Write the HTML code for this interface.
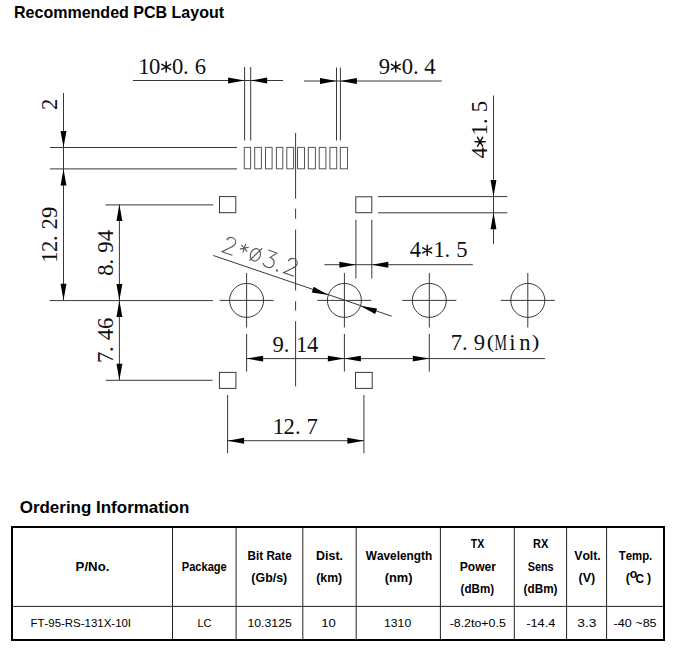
<!DOCTYPE html>
<html><head><meta charset="utf-8"><style>
html,body{margin:0;padding:0;background:#fff;}
body{width:676px;height:649px;overflow:hidden;}
svg{display:block;font-kerning:none;}
text{font-kerning:none;}
</style></head><body>
<svg width="676" height="649" viewBox="0 0 676 649">
<text x="13.99" y="18.00" font-family="Liberation Sans" font-size="17.22" font-weight="bold" fill="#000" textLength="210.11" lengthAdjust="spacingAndGlyphs">Recommended PCB Layout</text>
<text x="19.70" y="512.60" font-family="Liberation Sans" font-size="17.30" font-weight="bold" fill="#000" textLength="169.65" lengthAdjust="spacingAndGlyphs">Ordering Information</text>
<rect x="244.30" y="147.40" width="6.30" height="21.40" fill="none" stroke="#555" stroke-width="1.0"/>
<rect x="254.70" y="147.40" width="6.70" height="21.40" fill="none" stroke="#555" stroke-width="1.0"/>
<rect x="265.50" y="147.40" width="6.60" height="21.40" fill="none" stroke="#555" stroke-width="1.0"/>
<rect x="276.40" y="147.40" width="6.40" height="21.40" fill="none" stroke="#555" stroke-width="1.0"/>
<rect x="286.80" y="147.40" width="6.80" height="21.40" fill="none" stroke="#555" stroke-width="1.0"/>
<rect x="297.50" y="147.40" width="7.00" height="21.40" fill="none" stroke="#555" stroke-width="1.0"/>
<rect x="308.30" y="147.40" width="7.10" height="21.40" fill="none" stroke="#555" stroke-width="1.0"/>
<rect x="319.20" y="147.40" width="6.70" height="21.40" fill="none" stroke="#555" stroke-width="1.0"/>
<rect x="329.90" y="147.40" width="6.80" height="21.40" fill="none" stroke="#555" stroke-width="1.0"/>
<rect x="340.30" y="147.40" width="7.20" height="21.40" fill="none" stroke="#555" stroke-width="1.0"/>
<line x1="133.00" y1="80.50" x2="283.00" y2="80.50" stroke="#383838" stroke-width="1.0"/>
<polygon points="244.60,80.50 228.10,83.45 228.10,77.55" fill="#000"/>
<polygon points="250.70,80.50 267.20,77.55 267.20,83.45" fill="#000"/>
<line x1="244.60" y1="67.00" x2="244.60" y2="140.50" stroke="#383838" stroke-width="1.0"/>
<line x1="250.70" y1="67.00" x2="250.70" y2="140.50" stroke="#383838" stroke-width="1.0"/>
<line x1="304.00" y1="81.00" x2="441.80" y2="81.00" stroke="#383838" stroke-width="1.0"/>
<polygon points="336.50,81.00 320.00,83.95 320.00,78.05" fill="#000"/>
<polygon points="340.40,81.00 356.90,78.05 356.90,83.95" fill="#000"/>
<line x1="336.50" y1="67.50" x2="336.50" y2="140.50" stroke="#383838" stroke-width="1.0"/>
<line x1="340.40" y1="67.50" x2="340.40" y2="140.50" stroke="#383838" stroke-width="1.0"/>
<line x1="50.00" y1="147.50" x2="237.00" y2="147.50" stroke="#383838" stroke-width="1.0"/>
<line x1="50.00" y1="168.90" x2="237.00" y2="168.90" stroke="#383838" stroke-width="1.0"/>
<line x1="63.50" y1="93.00" x2="63.50" y2="300.30" stroke="#383838" stroke-width="1.0"/>
<polygon points="63.50,147.50 60.55,131.00 66.45,131.00" fill="#000"/>
<polygon points="63.50,168.90 66.45,185.40 60.55,185.40" fill="#000"/>
<polygon points="63.50,300.30 60.55,283.80 66.45,283.80" fill="#000"/>
<line x1="49.60" y1="300.60" x2="212.80" y2="300.60" stroke="#383838" stroke-width="1.0"/>
<line x1="119.40" y1="204.40" x2="119.40" y2="380.20" stroke="#383838" stroke-width="1.0"/>
<polygon points="119.40,204.40 122.35,220.90 116.45,220.90" fill="#000"/>
<polygon points="119.40,300.50 116.45,284.00 122.35,284.00" fill="#000"/>
<polygon points="119.40,300.50 122.35,317.00 116.45,317.00" fill="#000"/>
<polygon points="119.40,380.20 116.45,363.70 122.35,363.70" fill="#000"/>
<line x1="105.50" y1="204.90" x2="213.20" y2="204.90" stroke="#383838" stroke-width="1.0"/>
<line x1="105.80" y1="380.30" x2="212.50" y2="380.30" stroke="#383838" stroke-width="1.0"/>
<rect x="219.50" y="196.60" width="16.30" height="16.10" fill="none" stroke="#383838" stroke-width="1.0"/>
<rect x="355.80" y="196.80" width="16.00" height="15.90" fill="none" stroke="#383838" stroke-width="1.0"/>
<rect x="219.40" y="372.40" width="16.50" height="16.00" fill="none" stroke="#383838" stroke-width="1.0"/>
<rect x="355.50" y="372.40" width="16.70" height="16.00" fill="none" stroke="#383838" stroke-width="1.0"/>
<line x1="378.00" y1="196.60" x2="507.30" y2="196.60" stroke="#383838" stroke-width="1.0"/>
<line x1="378.00" y1="212.80" x2="507.30" y2="212.80" stroke="#383838" stroke-width="1.0"/>
<line x1="493.50" y1="95.50" x2="493.50" y2="244.20" stroke="#383838" stroke-width="1.0"/>
<polygon points="493.50,196.60 490.55,180.10 496.45,180.10" fill="#000"/>
<polygon points="493.50,212.80 496.45,229.30 490.55,229.30" fill="#000"/>
<line x1="355.90" y1="219.70" x2="355.90" y2="278.50" stroke="#383838" stroke-width="1.0"/>
<line x1="371.80" y1="219.70" x2="371.80" y2="278.50" stroke="#383838" stroke-width="1.0"/>
<line x1="324.40" y1="264.70" x2="472.80" y2="264.70" stroke="#383838" stroke-width="1.0"/>
<polygon points="355.90,264.70 339.40,267.65 339.40,261.75" fill="#000"/>
<polygon points="371.80,264.70 388.30,261.75 388.30,267.65" fill="#000"/>
<circle cx="246.60" cy="300.40" r="17.00" fill="none" stroke="#383838" stroke-width="1.0"/>
<line x1="219.60" y1="300.40" x2="273.60" y2="300.40" stroke="#383838" stroke-width="1.0"/>
<line x1="246.60" y1="273.00" x2="246.60" y2="327.50" stroke="#383838" stroke-width="1.0"/>
<circle cx="344.40" cy="300.40" r="17.00" fill="none" stroke="#383838" stroke-width="1.0"/>
<line x1="317.40" y1="300.40" x2="371.40" y2="300.40" stroke="#383838" stroke-width="1.0"/>
<line x1="344.40" y1="273.00" x2="344.40" y2="327.50" stroke="#383838" stroke-width="1.0"/>
<circle cx="429.30" cy="300.40" r="17.00" fill="none" stroke="#383838" stroke-width="1.0"/>
<line x1="402.30" y1="300.40" x2="456.30" y2="300.40" stroke="#383838" stroke-width="1.0"/>
<line x1="429.30" y1="273.00" x2="429.30" y2="327.50" stroke="#383838" stroke-width="1.0"/>
<circle cx="527.80" cy="300.40" r="17.00" fill="none" stroke="#383838" stroke-width="1.0"/>
<line x1="500.80" y1="300.40" x2="554.80" y2="300.40" stroke="#383838" stroke-width="1.0"/>
<line x1="527.80" y1="273.00" x2="527.80" y2="327.50" stroke="#383838" stroke-width="1.0"/>
<line x1="295.60" y1="133.00" x2="295.60" y2="198.70" stroke="#383838" stroke-width="1.0"/>
<line x1="295.60" y1="208.70" x2="295.60" y2="218.80" stroke="#383838" stroke-width="1.0"/>
<line x1="295.60" y1="229.60" x2="295.60" y2="290.50" stroke="#383838" stroke-width="1.0"/>
<line x1="295.60" y1="301.30" x2="295.60" y2="310.60" stroke="#383838" stroke-width="1.0"/>
<line x1="295.60" y1="321.20" x2="295.60" y2="386.40" stroke="#383838" stroke-width="1.0"/>
<line x1="213.30" y1="255.50" x2="391.70" y2="316.20" stroke="#383838" stroke-width="1.0"/>
<polygon points="328.31,294.92 311.74,292.40 313.64,286.82" fill="#000"/>
<polygon points="360.49,305.88 377.06,308.40 375.16,313.98" fill="#000"/>
<line x1="246.60" y1="334.00" x2="246.60" y2="371.60" stroke="#383838" stroke-width="1.0"/>
<line x1="344.40" y1="334.00" x2="344.40" y2="371.60" stroke="#383838" stroke-width="1.0"/>
<line x1="246.60" y1="358.60" x2="545.10" y2="358.60" stroke="#383838" stroke-width="1.0"/>
<polygon points="246.60,358.60 263.10,355.65 263.10,361.55" fill="#000"/>
<polygon points="344.40,358.60 327.90,361.55 327.90,355.65" fill="#000"/>
<polygon points="344.40,358.60 360.90,355.65 360.90,361.55" fill="#000"/>
<line x1="429.30" y1="333.90" x2="429.30" y2="371.70" stroke="#383838" stroke-width="1.0"/>
<polygon points="429.30,358.60 412.80,361.55 412.80,355.65" fill="#000"/>
<line x1="227.60" y1="395.00" x2="227.60" y2="453.30" stroke="#383838" stroke-width="1.0"/>
<line x1="363.90" y1="395.00" x2="363.90" y2="453.30" stroke="#383838" stroke-width="1.0"/>
<line x1="227.60" y1="440.70" x2="363.90" y2="440.70" stroke="#383838" stroke-width="1.0"/>
<polygon points="227.60,440.70 244.10,437.75 244.10,443.65" fill="#000"/>
<polygon points="363.90,440.70 347.40,443.65 347.40,437.75" fill="#000"/>
<g transform="translate(143.90,73.80)"><text x="0" y="0" font-family="Liberation Serif" font-size="22.66" fill="#111" text-anchor="middle">1</text></g>
<g transform="translate(154.70,73.80)"><text x="0" y="0" font-family="Liberation Serif" font-size="22.66" fill="#111" text-anchor="middle">0</text></g>
<g transform="translate(166.20,73.80)"><path d="M-0.00,-12.00 L0.00,-1.80 M-4.42,-9.45 L4.42,-4.35 M-4.42,-4.35 L4.42,-9.45 " stroke="#111" stroke-width="1.45" stroke-linecap="round" fill="none"/></g>
<g transform="translate(177.60,73.80)"><text x="0" y="0" font-family="Liberation Serif" font-size="22.66" fill="#111" text-anchor="middle">0</text></g>
<g transform="translate(185.90,73.80)"><text x="0" y="0" font-family="Liberation Serif" font-size="22.66" fill="#111" text-anchor="middle">.</text></g>
<g transform="translate(200.50,73.80)"><text x="0" y="0" font-family="Liberation Serif" font-size="22.66" fill="#111" text-anchor="middle">6</text></g>
<g transform="translate(384.50,73.75)"><text x="0" y="0" font-family="Liberation Serif" font-size="22.66" fill="#111" text-anchor="middle">9</text></g>
<g transform="translate(395.80,73.75)"><path d="M-0.00,-12.00 L0.00,-1.80 M-4.42,-9.45 L4.42,-4.35 M-4.42,-4.35 L4.42,-9.45 " stroke="#111" stroke-width="1.45" stroke-linecap="round" fill="none"/></g>
<g transform="translate(407.40,73.75)"><text x="0" y="0" font-family="Liberation Serif" font-size="22.66" fill="#111" text-anchor="middle">0</text></g>
<g transform="translate(415.90,73.75)"><text x="0" y="0" font-family="Liberation Serif" font-size="22.66" fill="#111" text-anchor="middle">.</text></g>
<g transform="translate(430.00,73.75)"><text x="0" y="0" font-family="Liberation Serif" font-size="22.66" fill="#111" text-anchor="middle">4</text></g>
<g transform="translate(415.40,257.30)"><text x="0" y="0" font-family="Liberation Serif" font-size="22.66" fill="#111" text-anchor="middle">4</text></g>
<g transform="translate(427.20,257.30)"><path d="M-0.00,-12.00 L0.00,-1.80 M-4.42,-9.45 L4.42,-4.35 M-4.42,-4.35 L4.42,-9.45 " stroke="#111" stroke-width="1.45" stroke-linecap="round" fill="none"/></g>
<g transform="translate(439.20,257.30)"><text x="0" y="0" font-family="Liberation Serif" font-size="22.66" fill="#111" text-anchor="middle">1</text></g>
<g transform="translate(447.40,257.30)"><text x="0" y="0" font-family="Liberation Serif" font-size="22.66" fill="#111" text-anchor="middle">.</text></g>
<g transform="translate(461.80,257.30)"><text x="0" y="0" font-family="Liberation Serif" font-size="22.66" fill="#111" text-anchor="middle">5</text></g>
<g transform="translate(278.10,351.80)"><text x="0" y="0" font-family="Liberation Serif" font-size="22.66" fill="#111" text-anchor="middle">9</text></g>
<g transform="translate(286.60,351.80)"><text x="0" y="0" font-family="Liberation Serif" font-size="22.66" fill="#111" text-anchor="middle">.</text></g>
<g transform="translate(301.70,351.80)"><text x="0" y="0" font-family="Liberation Serif" font-size="22.66" fill="#111" text-anchor="middle">1</text></g>
<g transform="translate(312.70,351.80)"><text x="0" y="0" font-family="Liberation Serif" font-size="22.66" fill="#111" text-anchor="middle">4</text></g>
<g transform="translate(278.30,433.80)"><text x="0" y="0" font-family="Liberation Serif" font-size="22.66" fill="#111" text-anchor="middle">1</text></g>
<g transform="translate(289.20,433.80)"><text x="0" y="0" font-family="Liberation Serif" font-size="22.66" fill="#111" text-anchor="middle">2</text></g>
<g transform="translate(297.90,433.80)"><text x="0" y="0" font-family="Liberation Serif" font-size="22.66" fill="#111" text-anchor="middle">.</text></g>
<g transform="translate(312.10,433.80)"><text x="0" y="0" font-family="Liberation Serif" font-size="22.66" fill="#111" text-anchor="middle">7</text></g>
<g transform="translate(456.50,349.90)"><text x="0" y="0" font-family="Liberation Serif" font-size="22.66" fill="#111" text-anchor="middle">7</text></g>
<g transform="translate(464.80,349.90)"><text x="0" y="0" font-family="Liberation Serif" font-size="22.66" fill="#111" text-anchor="middle">.</text></g>
<g transform="translate(479.40,349.90)"><text x="0" y="0" font-family="Liberation Serif" font-size="22.66" fill="#111" text-anchor="middle">9</text></g>
<g transform="translate(490.60,349.90)"><text x="0" y="0" font-family="Liberation Serif" font-size="22.66" fill="#111" text-anchor="middle" transform="translate(0,-2.4) scale(1,0.868)">(</text></g>
<g transform="translate(500.70,349.90)"><text x="0" y="0" font-family="Liberation Serif" font-size="22.66" fill="#111" text-anchor="middle" transform="scale(0.62,1)">M</text></g>
<g transform="translate(512.30,349.90)"><text x="0" y="0" font-family="Liberation Serif" font-size="22.66" fill="#111" text-anchor="middle">i</text></g>
<g transform="translate(524.90,349.90)"><text x="0" y="0" font-family="Liberation Serif" font-size="22.66" fill="#111" text-anchor="middle">n</text></g>
<g transform="translate(535.50,349.90)"><text x="0" y="0" font-family="Liberation Serif" font-size="22.66" fill="#111" text-anchor="middle" transform="translate(0,-2.4) scale(1,0.868)">)</text></g>
<g transform="translate(57.10,104.40) rotate(-90)"><text x="0" y="0" font-family="Liberation Serif" font-size="22.66" fill="#111" text-anchor="middle">2</text></g>
<g transform="translate(57.30,257.20) rotate(-90)"><text x="0" y="0" font-family="Liberation Serif" font-size="22.66" fill="#111" text-anchor="middle">1</text></g>
<g transform="translate(57.30,246.30) rotate(-90)"><text x="0" y="0" font-family="Liberation Serif" font-size="22.66" fill="#111" text-anchor="middle">2</text></g>
<g transform="translate(57.30,238.20) rotate(-90)"><text x="0" y="0" font-family="Liberation Serif" font-size="22.66" fill="#111" text-anchor="middle">.</text></g>
<g transform="translate(57.30,223.90) rotate(-90)"><text x="0" y="0" font-family="Liberation Serif" font-size="22.66" fill="#111" text-anchor="middle">2</text></g>
<g transform="translate(57.30,212.40) rotate(-90)"><text x="0" y="0" font-family="Liberation Serif" font-size="22.66" fill="#111" text-anchor="middle">9</text></g>
<g transform="translate(112.70,270.00) rotate(-90)"><text x="0" y="0" font-family="Liberation Serif" font-size="22.66" fill="#111" text-anchor="middle">8</text></g>
<g transform="translate(112.70,261.60) rotate(-90)"><text x="0" y="0" font-family="Liberation Serif" font-size="22.66" fill="#111" text-anchor="middle">.</text></g>
<g transform="translate(112.70,247.10) rotate(-90)"><text x="0" y="0" font-family="Liberation Serif" font-size="22.66" fill="#111" text-anchor="middle">9</text></g>
<g transform="translate(112.70,235.50) rotate(-90)"><text x="0" y="0" font-family="Liberation Serif" font-size="22.66" fill="#111" text-anchor="middle">4</text></g>
<g transform="translate(112.70,357.30) rotate(-90)"><text x="0" y="0" font-family="Liberation Serif" font-size="22.66" fill="#111" text-anchor="middle">7</text></g>
<g transform="translate(112.70,349.10) rotate(-90)"><text x="0" y="0" font-family="Liberation Serif" font-size="22.66" fill="#111" text-anchor="middle">.</text></g>
<g transform="translate(112.70,334.70) rotate(-90)"><text x="0" y="0" font-family="Liberation Serif" font-size="22.66" fill="#111" text-anchor="middle">4</text></g>
<g transform="translate(112.70,323.40) rotate(-90)"><text x="0" y="0" font-family="Liberation Serif" font-size="22.66" fill="#111" text-anchor="middle">6</text></g>
<g transform="translate(487.00,152.90) rotate(-90)"><text x="0" y="0" font-family="Liberation Serif" font-size="22.66" fill="#111" text-anchor="middle">4</text></g>
<g transform="translate(487.00,141.70) rotate(-90)"><path d="M-0.00,-12.00 L0.00,-1.80 M-4.42,-9.45 L4.42,-4.35 M-4.42,-4.35 L4.42,-9.45 " stroke="#111" stroke-width="1.45" stroke-linecap="round" fill="none"/></g>
<g transform="translate(487.00,129.90) rotate(-90)"><text x="0" y="0" font-family="Liberation Serif" font-size="22.66" fill="#111" text-anchor="middle">1</text></g>
<g transform="translate(487.00,121.20) rotate(-90)"><text x="0" y="0" font-family="Liberation Serif" font-size="22.66" fill="#111" text-anchor="middle">.</text></g>
<g transform="translate(487.00,106.50) rotate(-90)"><text x="0" y="0" font-family="Liberation Serif" font-size="22.66" fill="#111" text-anchor="middle">5</text></g>
<g transform="translate(222.0,251.7) rotate(18.79)" fill="none" stroke="#555" stroke-width="1.1"><path transform="translate(0.00,0)" d="M0.8,-12.3 C1.1,-15.2 3.2,-16.6 5.6,-16.6 C8.2,-16.6 10.0,-14.8 10.0,-12.3 C10.0,-10.0 8.4,-8.2 6.3,-6.2 L0,0 L11.0,0"/><path transform="translate(15.50,0)" d="M4.5,-15 L4.5,-6 M0.6,-12.8 L8.4,-8.2 M0.6,-8.2 L8.4,-12.8"/><path transform="translate(27.30,0)" d="M10.2,-7.8 A4.9,6.3 0 1 1 0.4,-7.8 A4.9,6.3 0 1 1 10.2,-7.8 Z M1.5,-0.3 L9.6,-16.2"/><path transform="translate(42.00,0)" d="M1.2,-16.4 L10.4,-16.4 L5.4,-10 C8.6,-10 11,-8.2 11,-4.8 C11,-1.6 8.6,0.2 5.6,0.2 C3.3,0.2 1.5,-0.8 0.4,-2.6"/><path transform="translate(57.40,0)" d="M0.3,-0.3 L1.2,-0.3 L1.2,0.6 L0.3,0.6 Z"/><path transform="translate(65.00,0)" d="M0.8,-12.3 C1.1,-15.2 3.2,-16.6 5.6,-16.6 C8.2,-16.6 10.0,-14.8 10.0,-12.3 C10.0,-10.0 8.4,-8.2 6.3,-6.2 L0,0 L11.0,0"/></g>
<rect x="12" y="527" width="652" height="113" fill="none" stroke="#000" stroke-width="2"/>
<line x1="172.50" y1="528.00" x2="172.50" y2="639.00" stroke="#222" stroke-width="1"/>
<line x1="236.10" y1="528.00" x2="236.10" y2="639.00" stroke="#222" stroke-width="1"/>
<line x1="302.80" y1="528.00" x2="302.80" y2="639.00" stroke="#222" stroke-width="1"/>
<line x1="356.20" y1="528.00" x2="356.20" y2="639.00" stroke="#222" stroke-width="1"/>
<line x1="440.40" y1="528.00" x2="440.40" y2="639.00" stroke="#222" stroke-width="1"/>
<line x1="514.30" y1="528.00" x2="514.30" y2="639.00" stroke="#222" stroke-width="1"/>
<line x1="566.60" y1="528.00" x2="566.60" y2="639.00" stroke="#222" stroke-width="1"/>
<line x1="606.60" y1="528.00" x2="606.60" y2="639.00" stroke="#222" stroke-width="1"/>
<line x1="13.00" y1="606.40" x2="663.00" y2="606.40" stroke="#222" stroke-width="1"/>
<text x="75.62" y="571.10" font-family="Liberation Sans" font-size="11.92" font-weight="bold" fill="#000" textLength="33.79" lengthAdjust="spacingAndGlyphs">P/No.</text>
<text x="181.76" y="571.10" font-family="Liberation Sans" font-size="11.92" font-weight="bold" fill="#000" textLength="45.02" lengthAdjust="spacingAndGlyphs">Package</text>
<text x="247.62" y="559.80" font-family="Liberation Sans" font-size="11.92" font-weight="bold" fill="#000" textLength="44.08" lengthAdjust="spacingAndGlyphs">Bit Rate</text>
<text x="251.38" y="581.70" font-family="Liberation Sans" font-size="11.92" font-weight="bold" fill="#000" textLength="35.84" lengthAdjust="spacingAndGlyphs">(Gb/s)</text>
<text x="316.07" y="559.80" font-family="Liberation Sans" font-size="11.92" font-weight="bold" fill="#000" textLength="26.99" lengthAdjust="spacingAndGlyphs">Dist.</text>
<text x="316.29" y="581.70" font-family="Liberation Sans" font-size="11.92" font-weight="bold" fill="#000" textLength="25.92" lengthAdjust="spacingAndGlyphs">(km)</text>
<text x="365.79" y="559.80" font-family="Liberation Sans" font-size="11.92" font-weight="bold" fill="#000" textLength="66.45" lengthAdjust="spacingAndGlyphs">Wavelength</text>
<text x="384.76" y="581.70" font-family="Liberation Sans" font-size="11.92" font-weight="bold" fill="#000" textLength="27.78" lengthAdjust="spacingAndGlyphs">(nm)</text>
<text x="470.68" y="548.00" font-family="Liberation Sans" font-size="11.92" font-weight="bold" fill="#000" textLength="13.61" lengthAdjust="spacingAndGlyphs">TX</text>
<text x="459.79" y="570.80" font-family="Liberation Sans" font-size="11.92" font-weight="bold" fill="#000" textLength="36.19" lengthAdjust="spacingAndGlyphs">Power</text>
<text x="460.62" y="592.60" font-family="Liberation Sans" font-size="11.92" font-weight="bold" fill="#000" textLength="33.45" lengthAdjust="spacingAndGlyphs">(dBm)</text>
<text x="532.97" y="548.00" font-family="Liberation Sans" font-size="11.92" font-weight="bold" fill="#000" textLength="15.23" lengthAdjust="spacingAndGlyphs">RX</text>
<text x="527.69" y="570.80" font-family="Liberation Sans" font-size="11.92" font-weight="bold" fill="#000" textLength="25.86" lengthAdjust="spacingAndGlyphs">Sens</text>
<text x="523.62" y="592.60" font-family="Liberation Sans" font-size="11.92" font-weight="bold" fill="#000" textLength="33.87" lengthAdjust="spacingAndGlyphs">(dBm)</text>
<text x="574.22" y="559.90" font-family="Liberation Sans" font-size="11.92" font-weight="bold" fill="#000" textLength="26.53" lengthAdjust="spacingAndGlyphs">Volt.</text>
<text x="578.57" y="581.90" font-family="Liberation Sans" font-size="11.92" font-weight="bold" fill="#000" textLength="16.75" lengthAdjust="spacingAndGlyphs">(V)</text>
<text x="618.77" y="559.90" font-family="Liberation Sans" font-size="11.92" font-weight="bold" fill="#000" textLength="33.51" lengthAdjust="spacingAndGlyphs">Temp.</text>
<text x="625.7" y="581.6" font-family="Liberation Sans" font-weight="bold" font-size="12.4" fill="#000">(</text>
<text x="629.7" y="578.0" font-family="Liberation Sans" font-weight="bold" font-size="12.2" fill="#000">o</text>
<text x="635.6" y="582.6" font-family="Liberation Sans" font-weight="bold" font-size="13.2" fill="#000" textLength="8.6" lengthAdjust="spacingAndGlyphs">C</text>
<text x="646.9" y="582.4" font-family="Liberation Sans" font-weight="bold" font-size="12.4" fill="#000">)</text>
<text x="30.46" y="627.20" font-family="Liberation Sans" font-size="11.77" fill="#000" textLength="100.60" lengthAdjust="spacingAndGlyphs">FT-95-RS-131X-10I</text>
<text x="197.40" y="627.20" font-family="Liberation Sans" font-size="11.77" fill="#000" textLength="14.02" lengthAdjust="spacingAndGlyphs">LC</text>
<text x="247.47" y="627.20" font-family="Liberation Sans" font-size="11.77" fill="#000" textLength="44.35" lengthAdjust="spacingAndGlyphs">10.3125</text>
<text x="321.20" y="627.20" font-family="Liberation Sans" font-size="11.77" fill="#000" textLength="14.61" lengthAdjust="spacingAndGlyphs">10</text>
<text x="384.07" y="627.20" font-family="Liberation Sans" font-size="11.77" fill="#000" textLength="27.10" lengthAdjust="spacingAndGlyphs">1310</text>
<text x="449.65" y="627.20" font-family="Liberation Sans" font-size="11.77" fill="#000" textLength="56.17" lengthAdjust="spacingAndGlyphs">-8.2to+0.5</text>
<text x="526.23" y="627.20" font-family="Liberation Sans" font-size="11.77" fill="#000" textLength="29.14" lengthAdjust="spacingAndGlyphs">-14.4</text>
<text x="577.28" y="627.20" font-family="Liberation Sans" font-size="11.77" fill="#000" textLength="19.13" lengthAdjust="spacingAndGlyphs">3.3</text>
<text x="613.64" y="627.20" font-family="Liberation Sans" font-size="11.77" fill="#000" textLength="42.99" lengthAdjust="spacingAndGlyphs">-40 ~85</text>
</svg>
</body></html>
